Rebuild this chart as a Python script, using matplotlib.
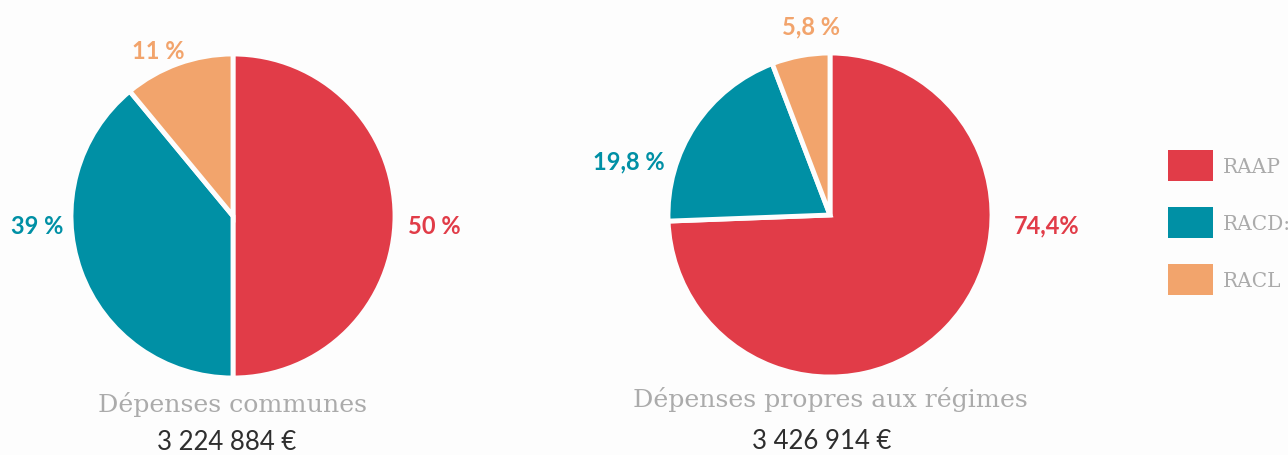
import matplotlib.pyplot as plt
from matplotlib.patches import Patch

# données
regimes = ["RAAP", "RACD:", "RACL"]
couleurs = ["#E13C48", "#0090A5", "#F2A46C"]

communes_parts = [50, 39, 11]
communes_labels = ["50 %", "39 %", "11 %"]
communes_titre = "Dépenses communes"
communes_total = "3 224 884 €"

propres_parts = [74.4, 19.8, 5.8]
propres_labels = ["74,4%", "19,8 %", "5,8 %"]
propres_titre = "Dépenses propres aux régimes"
propres_total = "3 426 914 €"

W, H = 1288, 456
fig = plt.figure(figsize=(W / 100, H / 100), dpi=100, facecolor="#FDFDFD")


def axe_camembert(cx, cy, r):
    # axe carré centré sur (cx, cy) en pixels, rayon r
    ax = fig.add_axes([(cx - r) / W, (H - cy - r) / H, 2 * r / W, 2 * r / H])
    ax.axis("off")
    return ax


def camembert(ax, parts, labels, pos_labels, titre, total, y_titre, y_total, x_total):
    ax.pie(parts, colors=couleurs, startangle=90, counterclock=False, radius=1,
           wedgeprops=dict(edgecolor="#FDFDFD", linewidth=3.5))
    ax.set_xlim(-1, 1)
    ax.set_ylim(-1, 1)
    for lab, (x, y), c in zip(labels, pos_labels, couleurs):
        ax.text(x, y, lab, color=c, fontsize=17, fontweight="bold",
                family="Lato", ha="center", va="center", clip_on=False)
    ax.text(0, y_titre, titre, color="#ABABAB", fontsize=18.2,
            family="DejaVu Serif", fontweight="light",
            ha="center", va="center", clip_on=False)
    ax.text(x_total, y_total, total, color="#2E2E2E", fontsize=18.5,
            family="Lato", ha="center", va="center", clip_on=False)


ax1 = axe_camembert(233, 217, 162)
camembert(ax1, communes_parts, communes_labels,
          [(1.245, -0.06), (-1.21, -0.06), (-0.46, 1.02)],
          communes_titre, communes_total, -1.155, -1.39, -0.04)

ax2 = axe_camembert(830, 216, 162)
camembert(ax2, propres_parts, propres_labels,
          [(1.34, -0.06), (-1.24, 0.335), (-0.12, 1.165)],
          propres_titre, propres_total, -1.135, -1.39, -0.05)

handles = [Patch(facecolor=c, edgecolor="none") for c in couleurs]
leg = fig.legend(handles, regimes, loc="upper left",
                 bbox_to_anchor=(1168 / W, (H - 151) / H), frameon=False,
                 prop=dict(family="DejaVu Serif", size=14.5),
                 handlelength=2.25, handleheight=2.0, handletextpad=0.45,
                 labelspacing=1.28, borderpad=0, borderaxespad=0)
for t in leg.get_texts():
    t.set_color("#ABABAB")

fig.savefig("out.png", dpi=100, facecolor=fig.get_facecolor())
